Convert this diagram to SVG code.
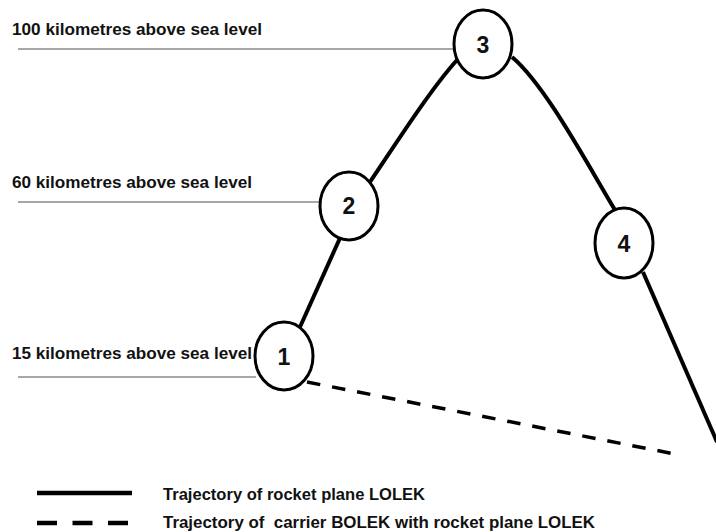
<svg xmlns="http://www.w3.org/2000/svg" width="716" height="532" viewBox="0 0 716 532">
  <style>
    .lvl { fill: none; stroke: #8a8a8a; stroke-width: 1.6; }
    .lbl { font-family: "Liberation Sans", Arial, sans-serif; font-weight: bold; font-size: 17px; fill: #111; }
    .leg { font-family: "Liberation Sans", Arial, sans-serif; font-weight: bold; font-size: 17px; fill: #111; }
    .node ellipse { fill: #fff; stroke: #000; stroke-width: 3; }
    .node text { font-family: "Liberation Sans", Arial, sans-serif; font-weight: bold; font-size: 23px; fill: #111; text-anchor: middle; }
    .solid { fill: none; stroke: #000; stroke-width: 4; stroke-linecap: butt; }
    .dash { fill: none; stroke: #000; stroke-width: 3.5; stroke-dasharray: 13.5 12; }
    .legdash { fill: none; stroke: #000; stroke-width: 4.5; stroke-dasharray: 20 15.5; }
  </style>

  <g id="levels">
    <line class="lvl" x1="18" y1="49" x2="455" y2="49"/>
    <line class="lvl" x1="18" y1="202" x2="321" y2="202"/>
    <line class="lvl" x1="18" y1="377" x2="256" y2="377"/>
    <text class="lbl" x="12" y="35" textLength="250" lengthAdjust="spacingAndGlyphs">100 kilometres above sea level</text>
    <text class="lbl" x="12" y="188" textLength="240" lengthAdjust="spacingAndGlyphs">60 kilometres above sea level</text>
    <text class="lbl" x="12" y="359" textLength="240" lengthAdjust="spacingAndGlyphs">15 kilometres above sea level</text>
  </g>

  <g id="connectors">
    <path class="dash" d="M307,382 L680,455"/>
    <path class="solid" d="M300,327 L340,238"/>
    <path class="solid" d="M370,182 C395,145 430,90 457,60"/>
    <path class="solid" d="M512,57 C545,85 585,160 615,210"/>
    <path class="solid" d="M643,272 L717,442"/>
  </g>

  <g id="n1" class="node">
    <ellipse cx="284" cy="356" rx="29" ry="34"/>
    <text x="284" y="365">1</text>
  </g>
  <g id="n2" class="node">
    <ellipse cx="349" cy="206" rx="29" ry="34"/>
    <text x="349" y="214">2</text>
  </g>
  <g id="n3" class="node">
    <ellipse cx="483" cy="44" rx="29" ry="34"/>
    <text x="483" y="53">3</text>
  </g>
  <g id="n4" class="node">
    <ellipse cx="624" cy="243" rx="29" ry="35"/>
    <text x="624" y="252">4</text>
  </g>

  <g id="legend">
    <line class="solid" x1="37" y1="493" x2="132" y2="493" style="stroke-width:4.5"/>
    <line class="legdash" x1="37" y1="523" x2="128" y2="523"/>
    <text class="leg" x="163" y="500" textLength="262" lengthAdjust="spacingAndGlyphs">Trajectory of rocket plane LOLEK</text>
    <text class="leg" x="163" y="528" xml:space="preserve" textLength="432" lengthAdjust="spacingAndGlyphs">Trajectory of  carrier BOLEK with rocket plane LOLEK</text>
  </g>
</svg>
